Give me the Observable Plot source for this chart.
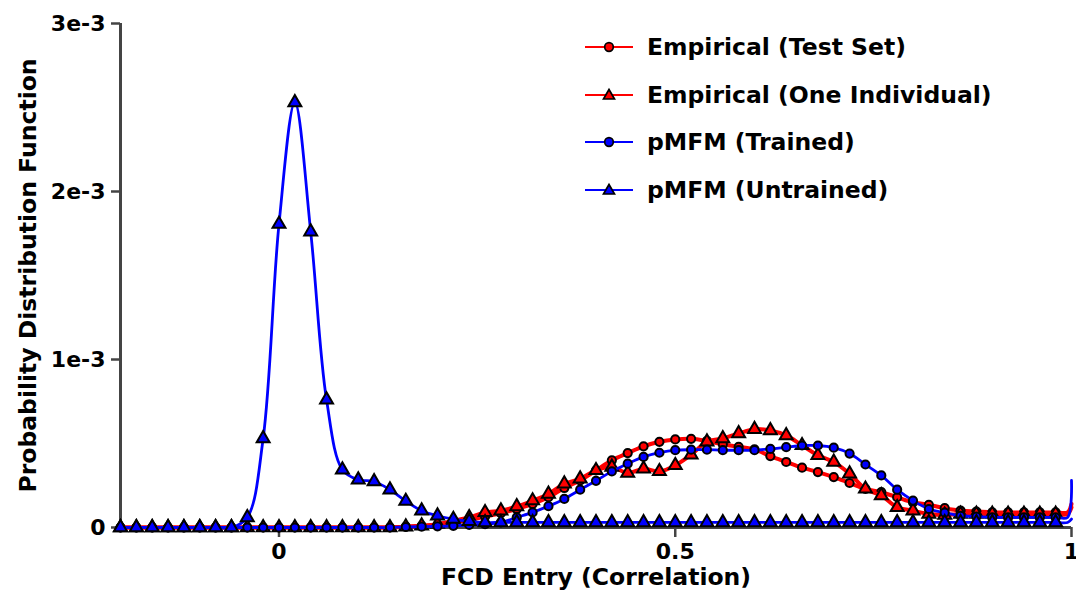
<!DOCTYPE html>
<html><head><meta charset="utf-8">
<script src="https://cdn.jsdelivr.net/npm/d3@7"></script>
<script src="https://cdn.jsdelivr.net/npm/@observablehq/plot@0.6"></script>
<style>
body{margin:0;background:#fff;font-family:"DejaVu Sans",sans-serif;}
#wrap{position:relative;width:1076px;height:599px;overflow:hidden;}
#legend .item{position:absolute;left:583px;height:48px;display:flex;align-items:center;font-weight:bold;font-size:23.5px;color:#000;white-space:nowrap;}
#legend svg{margin-right:12px;}
</style></head><body><div id="wrap"><div id="chart"></div><div id="legend"></div></div>
<script>
// x positions (FCD entry / correlation)
const xs = [-0.2,-0.18,-0.16,-0.14,-0.12,-0.1,-0.08,-0.06,-0.04,-0.02,
  0,0.02,0.04,0.06,0.08,0.1,0.12,0.14,0.16,0.18,
  0.2,0.22,0.24,0.26,0.28,0.3,0.32,0.34,0.36,0.38,
  0.4,0.42,0.44,0.46,0.48,0.5,0.52,0.54,0.56,0.58,
  0.6,0.62,0.64,0.66,0.68,0.7,0.72,0.74,0.76,0.78,
  0.8,0.82,0.84,0.86,0.88,0.9,0.92,0.94,0.96,0.98,
  1.0];
// values in units of 1e-3
const testSet = [0,0,0,0,0,0,0,0,0,0,
  0,0,0,0,0,0,0,0,0.005,0.01,
  0.015,0.03,0.045,0.065,0.085,0.11,0.14,0.18,0.235,0.28,
  0.34,0.40,0.443,0.483,0.51,0.524,0.528,0.515,0.495,0.48,
  0.465,0.425,0.39,0.356,0.33,0.30,0.265,0.23,0.21,0.18,
  0.15,0.135,0.115,0.10,0.095,0.09,0.09,0.09,0.09,0.09,
  0.14];
const oneIndividual = [0,0,0,0,0,0,0,0,0,0,
  0,0,0,0,0,0,0,0,0.005,0.01,
  0.02,0.04,0.06,0.09,0.10,0.125,0.16,0.20,0.26,0.29,
  0.34,0.36,0.324,0.35,0.334,0.37,0.433,0.51,0.53,0.56,
  0.585,0.578,0.548,0.489,0.43,0.39,0.32,0.23,0.19,0.12,
  0.10,0.08,0.075,0.08,0.08,0.08,0.08,0.08,0.08,0.08,
  0.12];
const trained = [0,0,0,0,0,0,0,0,0,0,
  0,0,0,0,0,0,0,0,0.003,0.005,
  0.007,0.01,0.015,0.02,0.03,0.06,0.09,0.127,0.17,0.225,
  0.278,0.334,0.38,0.42,0.445,0.46,0.463,0.463,0.46,0.46,
  0.46,0.468,0.478,0.488,0.488,0.475,0.44,0.375,0.31,0.225,
  0.16,0.11,0.088,0.07,0.065,0.06,0.06,0.06,0.06,0.06,
  0.28];
const untrained = [0,0,0,0,0,0,0,0,0.06,0.53,
  1.806,2.53,1.76,0.76,0.344,0.284,0.274,0.225,0.157,0.10,
  0.07,0.05,0.037,0.03,0.03,0.03,0.03,0.03,0.03,0.03,
  0.03,0.03,0.03,0.03,0.03,0.03,0.03,0.03,0.03,0.03,
  0.03,0.03,0.03,0.03,0.03,0.03,0.03,0.03,0.03,0.03,
  0.03,0.03,0.03,0.03,0.03,0.03,0.03,0.03,0.03,0.03,
  0.05];
// extra line point just before the right edge (sharp rise at 1)
const edgeX = 0.995;
const testEdge = 0.09, indivEdge = 0.08, trainedEdge = 0.06, untrainedEdge = 0.03;

const seriesNames = ["Empirical (Test Set)","Empirical (One Individual)","pMFM (Trained)","pMFM (Untrained)"];
const seriesColors = ["#ff0000","#ff0000","#0000ff","#0000ff"];
const seriesSymbols = ["circle","triangle","circle","triangle"];
const seriesValues = [testSet, oneIndividual, trained, untrained];
const seriesEdges = [testEdge, indivEdge, trainedEdge, untrainedEdge];

const xTicks = [0, 0.5, 1];
const xTickLabels = ["0", "0.5", "1"];
const yTicks = [0, 0.001, 0.002, 0.003];
const yTickLabels = ["0", "1e-3", "2e-3", "3e-3"];

function lineData(vals, edge){
  const pts = xs.slice(0, xs.length-1).map((x,i)=>({x, y: vals[i]*1e-3}));
  pts.push({x: edgeX, y: edge*1e-3});
  pts.push({x: xs[xs.length-1], y: vals[vals.length-1]*1e-3});
  return pts;
}
function dotData(vals){
  return xs.slice(0, xs.length-1).map((x,i)=>({x, y: vals[i]*1e-3}));
}

const marks = [];
seriesValues.forEach((vals, s)=>{
  marks.push(Plot.line(lineData(vals, seriesEdges[s]), {x:"x", y:"y", stroke: seriesColors[s],
    strokeWidth: s < 2 ? 4 : 2.8, curve: "catmull-rom"}));
  marks.push(Plot.dot(dotData(vals), {x:"x", y:"y", symbol: seriesSymbols[s], fill: seriesColors[s],
    stroke:"#000", strokeWidth: 2, r: seriesSymbols[s]==="circle" ? 4.1 : 4.8}));
});

const FONT = '"DejaVu Sans", sans-serif';
const chart = Plot.plot({
  width: 1076, height: 599,
  marginLeft: 120, marginRight: 5, marginTop: 23, marginBottom: 72,
  style: {fontFamily: FONT, color: "#000", background: "#fff"},
  x: {domain: [-0.2, 1]},
  y: {domain: [0, 0.003]},
  marks: [
    Plot.ruleY([0], {stroke: "#444", strokeWidth: 3}),
    Plot.ruleX([-0.2], {stroke: "#444", strokeWidth: 3}),
    Plot.axisX({ticks: xTicks, tickFormat: d => xTickLabels[xTicks.indexOf(d)], tickSize: 10, tickPadding: 6,
      stroke: "#444", strokeWidth: 2.5, fill: "#000", fontSize: 22, fontWeight: "bold", label: null}),
    Plot.axisY({ticks: yTicks, tickFormat: d => yTickLabels[yTicks.indexOf(d)], tickSize: 9, tickPadding: 6,
      stroke: "#444", strokeWidth: 2.5, fill: "#000", fontSize: 22, fontWeight: "bold", label: null}),
    ...marks,
    Plot.text(["Probability Distribution Function"], {frameAnchor: "left", rotate: -90, dx: -92,
      textAnchor: "middle", fontSize: 23.5, fontWeight: "bold", fill: "#000"}),
    Plot.text(["FCD Entry (Correlation)"], {frameAnchor: "bottom", dy: 57, textAnchor: "middle",
      fontSize: 23.5, fontWeight: "bold", fill: "#000"})
  ]
});
document.getElementById("chart").appendChild(chart);

// legend
const legend = document.getElementById("legend");
const legendCenters = [47, 95, 142, 190];
seriesNames.forEach((name, s)=>{
  const item = document.createElement("div");
  item.className = "item";
  item.style.top = (legendCenters[s] - 24) + "px";
  const sym = seriesSymbols[s] === "circle"
    ? `<circle cx="26" cy="12" r="4.3" fill="${seriesColors[s]}" stroke="#000" stroke-width="1.7"/>`
    : `<path d="M26,6.5 L31.5,16 L20.5,16 Z" fill="${seriesColors[s]}" stroke="#000" stroke-width="1.7"/>`;
  item.innerHTML = `<svg width="52" height="24"><line x1="2" y1="12" x2="50" y2="12" stroke="${seriesColors[s]}" stroke-width="2"/>${sym}</svg><span>${name}</span>`;
  legend.appendChild(item);
});
</script></body></html>
